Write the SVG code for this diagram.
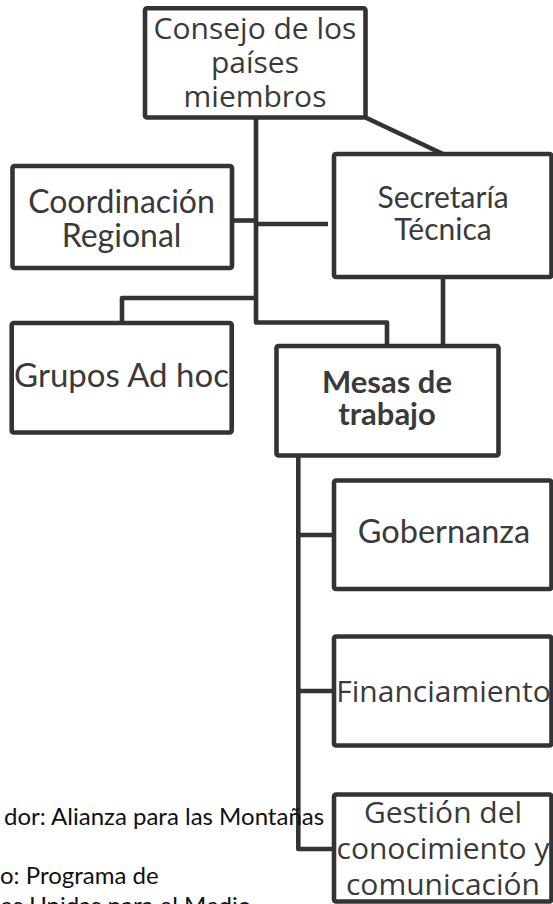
<svg xmlns="http://www.w3.org/2000/svg" width="553" height="904" viewBox="0 0 553 904">
<style>
.box{fill:#ffffff;stroke:#333333;stroke-width:4.6;stroke-linejoin:round}
.con{fill:none;stroke:#333333;stroke-width:4.6;stroke-linejoin:round}
.seg{font-family:"Open Sans","Noto Sans",sans-serif;font-size:30px;fill:#3a3a3a;text-anchor:middle}
.lat{font-family:Lato,"Liberation Sans",sans-serif;font-size:32px;fill:#3a3a3a;text-anchor:middle}
.bold{font-family:Lato,"Liberation Sans",sans-serif;font-size:31px;font-weight:bold;fill:#3a3a3a;text-anchor:middle}
.note{font-family:Lato,"Liberation Sans",sans-serif;font-size:24px;fill:#111111}
</style>
<rect width="553" height="904" fill="#ffffff"/>
<g id="connectors">
<path class="con" d="M256,117.5 V322.5 H387 V346"/>
<path class="con" d="M233,220.5 H256"/>
<path class="con" d="M256,224 H328"/>
<path class="con" d="M256,298 H122 V323"/>
<path class="con" d="M365.5,117.5 L443,154"/>
<path class="con" d="M443,277 V346"/>
<path class="con" d="M298.3,455.5 V849 H334"/>
<path class="con" d="M298.3,535 H334"/>
<path class="con" d="M298.3,691 H334"/>
</g>
<g id="consejo">
<rect class="box" x="145" y="8.3" width="220.5" height="109.2" rx="2"/>
<text class="seg" x="255" y="39">Consejo de los</text>
<text class="seg" x="255" y="73">países</text>
<text class="seg" x="255" y="107">miembros</text>
</g>
<g id="coordinacion">
<rect class="box" x="12.5" y="166" width="219.5" height="102" rx="2"/>
<text class="lat" x="121.5" y="213">Coordinación</text>
<text class="lat" x="121.5" y="247">Regional</text>
</g>
<g id="secretaria">
<rect class="box" x="334" y="154" width="217.5" height="123" rx="2"/>
<text class="lat" x="443" y="208" style="font-size:30px">Secretaría</text>
<text class="lat" x="443" y="240" style="font-size:30px">Técnica</text>
</g>
<g id="grupos">
<rect class="box" x="11.7" y="323" width="220" height="109.5" rx="2"/>
<text class="lat" x="121.5" y="387" style="font-size:33px">Grupos Ad hoc</text>
</g>
<g id="mesas">
<rect class="box" x="276.5" y="346" width="222" height="109.5" rx="2"/>
<text class="bold" x="387" y="393">Mesas de</text>
<text class="bold" x="387" y="425">trabajo</text>
</g>
<g id="gobernanza">
<rect class="box" x="334" y="480.5" width="217.5" height="108.5" rx="2"/>
<text class="lat" x="444" y="543" style="font-size:32.5px">Gobernanza</text>
</g>
<g id="financiamiento">
<rect class="box" x="334" y="636.5" width="217.5" height="109" rx="2"/>
<text class="seg" x="443.5" y="702">Financiamiento</text>
</g>
<g id="gestion">
<rect class="box" x="334" y="794.5" width="217.5" height="107" rx="2"/>
<text class="seg" x="443" y="823">Gestión del</text>
<text class="seg" x="443" y="859">conocimiento y</text>
<text class="seg" x="443" y="895">comunicación</text>
</g>
<g id="notes">
<text class="note" x="4" y="825">dor: Alianza para las Montañas</text>
<text class="note" x="0" y="884">o: Programa de</text>
<text class="note" x="0" y="914">es Unidas para el Medio</text>
</g>
</svg>
